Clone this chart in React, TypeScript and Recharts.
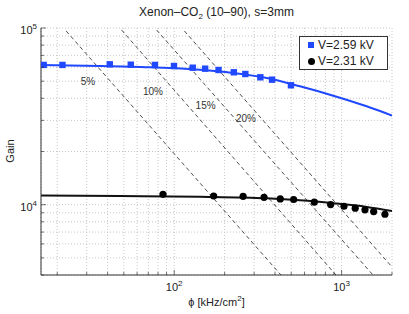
import React from 'react'
import { ComposedChart, Line, Scatter, XAxis, YAxis, CartesianGrid } from 'recharts'

// axis grid / tick values
const xTicks = [20, 30, 40, 50, 60, 70, 80, 90, 100, 200, 300, 400, 500, 600, 700, 800, 900, 1000, 2000]
const yTicks = [
  4000, 5000, 6000, 7000, 8000, 9000, 10000, 20000, 30000, 40000, 50000, 60000, 70000, 80000, 90000, 100000,
]

// V=2.59 kV measurements
const blueX = [16.6, 21.5, 41.2, 55, 76.7, 99.7, 129, 153, 184, 227, 266, 327, 384, 498]
const blueY = [61800, 61800, 62300, 62000, 61800, 60950, 59600, 58850, 57850, 56150, 54900, 52600, 51000, 47400]

// V=2.31 kV measurements
const blackX = [85.7, 172, 258, 344, 430, 517, 687, 860, 1033, 1206, 1379, 1554, 1815]
const blackY = [11450, 11200, 11150, 11000, 10780, 10700, 10340, 10010, 9800, 9550, 9350, 9140, 8830]

// fitted curves
const blueFitX = [16, 36, 71.6, 142.5, 224, 357, 564, 892, 1411, 2000]
const blueFitY = [61650, 60950, 59900, 58000, 55640, 52120, 46780, 41400, 36050, 31980]
const blackFitX = [16, 47.4, 142.5, 357, 564, 892, 1411, 2000]
const blackFitY = [11270, 11200, 11100, 10870, 10590, 10190, 9710, 9210]

// dashed guide lines (start / end) and their labels
const guideLabels = ['5%', '10%', '15%', '20%']
const guideStartX = [22.6, 48.5, 78.5, 115]
const guideStartY = [96200, 97400, 97400, 96200]
const guideEndX = [434, 925, 1540, 2000]
const guideEndY = [4000, 4000, 4000, 4440]
const labelX = [30.5, 74.7, 154, 268]
const labelY = [50100, 44150, 36500, 31000]

const BLUE = '#1f48ff'
const AXIS = '#333'

const toRows = (xs: number[], ys: number[]) => xs.map((x, i) => ({ x, y: ys[i] }))

const blueData = toRows(blueX, blueY)
const blackData = toRows(blackX, blackY)
const blueFit = toRows(blueFitX, blueFitY)
const blackFit = toRows(blackFitX, blackFitY)
const guides = guideLabels.map((_, i) => [
  { x: guideStartX[i], y: guideStartY[i] },
  { x: guideEndX[i], y: guideEndY[i] },
])
const guideText = guideLabels.map((label, i) => ({ x: labelX[i], y: labelY[i], label }))

const isDecade = (v: number) => Math.abs(Math.log10(v) - Math.round(Math.log10(v))) < 1e-9

const XTick = ({ x, y, payload, top }: any) => {
  const v = payload.value
  const len = isDecade(v) ? 5 : 3
  const dir = top ? 1 : -1
  return (
    <g>
      <line x1={x} x2={x} y1={y} y2={y + dir * len} stroke={AXIS} strokeWidth={0.7} />
      {!top && isDecade(v) && (
        <text x={x} y={y + 16} textAnchor="middle" fontSize={11} fill="#222">
          10
          <tspan dy={-5} fontSize={8}>
            {Math.round(Math.log10(v))}
          </tspan>
        </text>
      )}
    </g>
  )
}

const YTick = ({ x, y, payload, right }: any) => {
  const v = payload.value
  const len = isDecade(v) ? 5 : 3
  const dir = right ? -1 : 1
  return (
    <g>
      <line x1={x} x2={x + dir * len} y1={y} y2={y} stroke={AXIS} strokeWidth={0.7} />
      {!right && isDecade(v) && (
        <text x={x - 4} y={y + 6} textAnchor="end" fontSize={11} fill="#222">
          10
          <tspan dy={-5} fontSize={8}>
            {Math.round(Math.log10(v))}
          </tspan>
        </text>
      )}
    </g>
  )
}

export default function App() {
  return (
    <div
      style={{
        position: 'absolute',
        left: 0,
        top: 0,
        width: 409,
        height: 314,
        background: '#fff',
        fontFamily: '"Liberation Sans", Arial, sans-serif',
        color: '#222',
      }}
    >
      <div style={{ position: 'absolute', left: 41, width: 351, top: 5, textAlign: 'center', fontSize: 12 }}>
        Xenon–CO<sub style={{ fontSize: 8 }}>2</sub> (10–90), s=3mm
      </div>
      <ComposedChart width={409} height={314} margin={{ top: 28, right: 17, bottom: 0, left: 0 }}>
        <CartesianGrid stroke="#b8b8b8" strokeDasharray="1 2" strokeWidth={0.8} />
        <XAxis
          dataKey="x"
          type="number"
          scale="log"
          domain={[16, 2000]}
          allowDataOverflow
          ticks={xTicks}
          interval={0}
          height={39}
          tickSize={0}
          tickMargin={0}
          tickLine={false}
          tick={<XTick />}
          axisLine={{ stroke: AXIS }}
        />
        <XAxis
          xAxisId="top"
          orientation="top"
          type="number"
          scale="log"
          domain={[16, 2000]}
          allowDataOverflow
          ticks={xTicks}
          interval={0}
          height={0}
          tickSize={0}
          tickMargin={0}
          tickLine={false}
          tick={<XTick top />}
          axisLine={{ stroke: AXIS }}
        />
        <YAxis
          dataKey="y"
          type="number"
          scale="log"
          domain={[4000, 100000]}
          allowDataOverflow
          ticks={yTicks}
          interval={0}
          width={41}
          tickSize={0}
          tickMargin={0}
          tickLine={false}
          tick={<YTick />}
          axisLine={{ stroke: AXIS }}
        />
        <YAxis
          yAxisId="right"
          orientation="right"
          type="number"
          scale="log"
          domain={[4000, 100000]}
          allowDataOverflow
          ticks={yTicks}
          interval={0}
          width={0}
          tickSize={0}
          tickMargin={0}
          tickLine={false}
          tick={<YTick right />}
          axisLine={{ stroke: AXIS }}
        />
        {guides.map((g, i) => (
          <Line
            key={'g' + i}
            data={g}
            dataKey="y"
            type="linear"
            stroke="#222"
            strokeWidth={0.8}
            strokeDasharray="4 3"
            dot={false}
            isAnimationActive={false}
          />
        ))}
        <Scatter
          data={guideText}
          isAnimationActive={false}
          shape={(p: any) => (
            <text x={p.cx} y={p.cy + 4} textAnchor="middle" fontSize={10} fill="#333">
              {p.payload.label}
            </text>
          )}
        />
        <Line data={blueFit} dataKey="y" type="monotone" stroke={BLUE} strokeWidth={2} dot={false} isAnimationActive={false} />
        <Line data={blackFit} dataKey="y" type="monotone" stroke="#111" strokeWidth={2} dot={false} isAnimationActive={false} />
        <Scatter
          data={blueData}
          isAnimationActive={false}
          shape={(p: any) => <rect x={p.cx - 3.2} y={p.cy - 3.2} width={6.4} height={6.4} fill={BLUE} />}
        />
        <Scatter
          data={blackData}
          isAnimationActive={false}
          shape={(p: any) => <circle cx={p.cx} cy={p.cy} r={3.6} fill="#000" />}
        />
      </ComposedChart>
      <div
        style={{
          position: 'absolute',
          left: 299,
          top: 36,
          width: 87,
          height: 32,
          border: '1px solid #333',
          background: '#fff',
          fontSize: 12,
        }}
      >
        <div style={{ position: 'absolute', left: 8, top: 5, width: 6, height: 6, background: BLUE }} />
        <div style={{ position: 'absolute', left: 18, top: 1, lineHeight: '14px' }}>V=2.59 kV</div>
        <div style={{ position: 'absolute', left: 7.5, top: 21, width: 7, height: 7, borderRadius: 4, background: '#000' }} />
        <div style={{ position: 'absolute', left: 18, top: 17, lineHeight: '14px' }}>V=2.31 kV</div>
      </div>
      <div
        style={{
          position: 'absolute',
          left: 10,
          top: 151,
          fontSize: 11,
          transform: 'translate(-50%, -50%) rotate(-90deg)',
        }}
      >
        Gain
      </div>
      <div style={{ position: 'absolute', left: 41, width: 351, top: 294, textAlign: 'center', fontSize: 11 }}>
        ϕ [kHz/cm<sup style={{ fontSize: 8 }}>2</sup>]
      </div>
    </div>
  )
}
